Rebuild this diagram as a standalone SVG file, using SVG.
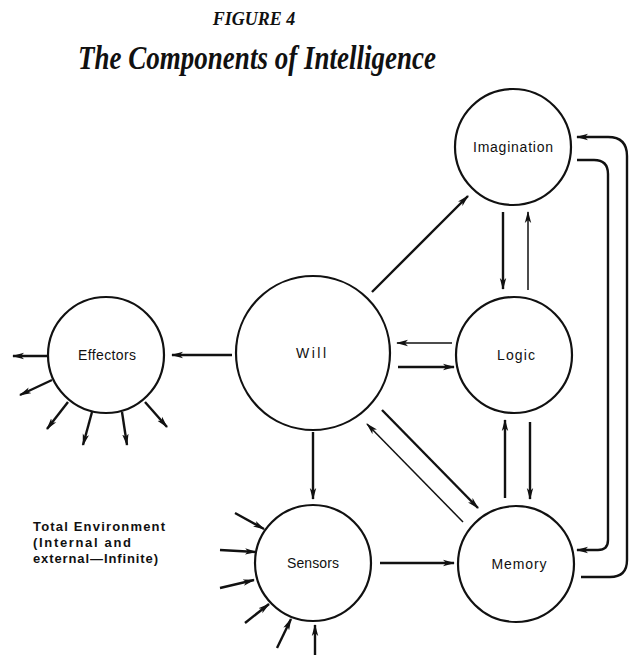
<svg xmlns="http://www.w3.org/2000/svg" width="629" height="655" viewBox="0 0 629 655">
<style>
.node{fill:#fff;stroke:#111;stroke-width:2.2}
.lbl{font-family:"Liberation Sans",Arial,sans-serif;font-size:14px;fill:#111;text-anchor:middle}
.c{fill:none;stroke:#111;stroke-width:2.4}
.thin{stroke-width:1.5}
.arr{marker-end:url(#ah)}
.note{font-family:"Liberation Sans",Arial,sans-serif;font-size:13px;font-weight:bold;fill:#111}
</style>
<defs>
<marker id="ah" markerUnits="userSpaceOnUse" markerWidth="12" markerHeight="8" refX="11" refY="4" orient="auto">
<path d="M0,0.8 L12,4 L0,7.2 L3,4 z" fill="#111"/>
</marker>
</defs>
<rect width="629" height="655" fill="#fff"/>
<text x="254" y="25" font-family="Liberation Serif,serif" font-size="18" font-weight="bold" font-style="italic" text-anchor="middle" fill="#111">FIGURE 4</text>
<text x="257" y="69" font-family="Liberation Serif,serif" font-size="33" font-weight="bold" font-style="italic" text-anchor="middle" fill="#111" textLength="358" lengthAdjust="spacingAndGlyphs">The Components of Intelligence</text>

<g id="connectors">
<path class="c arr" d="M232,355 L172,355"/>
<path class="c arr" d="M372,292 L468,196"/>
<path class="c arr" d="M503,212 L503,289"/>
<path class="c thin arr" d="M528,290 L528,212"/>
<path class="c thin arr" d="M452,343 L397,343"/>
<path class="c arr" d="M398,367 L454,367"/>
<path class="c arr" d="M382,410 L478,508"/>
<path class="c thin arr" d="M463,522 L367,424"/>
<path class="c arr" d="M505,498 L505,420"/>
<path class="c arr" d="M530,422 L530,499"/>
<path class="c arr" d="M380,563 L454,563"/>
<path class="c arr" d="M313,432 L313,499"/>
<path class="c arr" d="M577,160 L594,160 Q608,160 608,174 L608,540 Q608,550 598,550 L577,550"/>
<path class="c arr" d="M581,577 L610,577 Q627,577 627,560 L627,156 Q627,137 608,137 L577,137"/>
<path class="c arr" d="M47,356 L13,356"/>
<path class="c arr" d="M52,380 L20,395"/>
<path class="c arr" d="M68,402 L47,429"/>
<path class="c arr" d="M92,412 L83,445"/>
<path class="c arr" d="M122,412 L127,445"/>
<path class="c arr" d="M145,402 L167,427"/>
<path class="c arr" d="M235,513 L264,529"/>
<path class="c arr" d="M220,550 L256,552"/>
<path class="c arr" d="M220,588 L254,580"/>
<path class="c arr" d="M245,623 L269,604"/>
<path class="c arr" d="M277,648 L291,619"/>
<path class="c arr" d="M315,655 L315,625"/>
</g>

<g id="imagination"><circle class="node" cx="513" cy="147" r="58"/><text class="lbl" x="513" y="152" textLength="80" lengthAdjust="spacing">Imagination</text></g>
<g id="logic"><circle class="node" cx="514" cy="355" r="58"/><text class="lbl" x="516" y="360" textLength="38" lengthAdjust="spacing">Logic</text></g>
<g id="memory"><circle class="node" cx="516" cy="564" r="58"/><text class="lbl" x="519" y="569" textLength="55" lengthAdjust="spacing">Memory</text></g>
<g id="will"><circle class="node" cx="313" cy="353" r="77"/><text class="lbl" x="311" y="358" textLength="30" lengthAdjust="spacing">Will</text></g>
<g id="effectors"><circle class="node" cx="106" cy="355" r="58"/><text class="lbl" x="107" y="360" textLength="58" lengthAdjust="spacing">Effectors</text></g>
<g id="sensors"><circle class="node" cx="313" cy="563" r="58"/><text class="lbl" x="313" y="568" textLength="52" lengthAdjust="spacing">Sensors</text></g>

<g id="environment">
<text class="note" x="33" y="531" textLength="132" lengthAdjust="spacing">Total Environment</text>
<text class="note" x="33" y="547" textLength="98" lengthAdjust="spacing">(Internal and</text>
<text class="note" x="33" y="563" textLength="125" lengthAdjust="spacing">external—Infinite)</text>
</g>
</svg>
